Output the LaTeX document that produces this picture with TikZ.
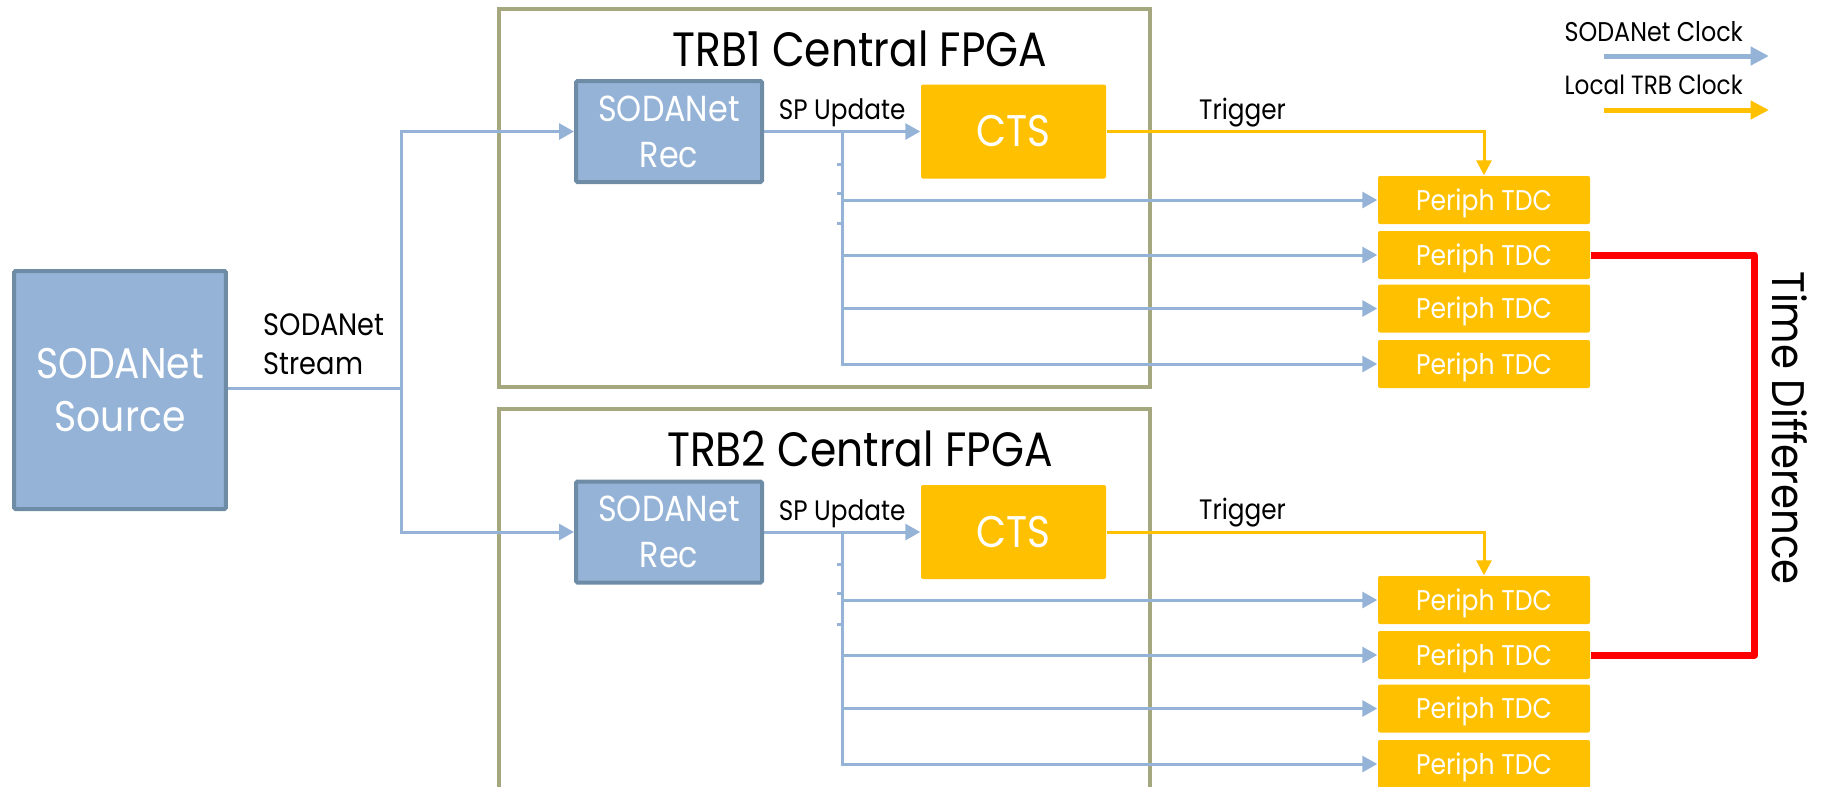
\documentclass[tikz,border=0pt]{standalone}
\usepackage{fontspec}
\setmainfont{Poppins}[FakeStretch=0.88]
\usetikzlibrary{arrows.meta}
\definecolor{sodafill}{HTML}{95B3D7}
\definecolor{sodaedge}{HTML}{6E8CA6}
\definecolor{trbgold}{HTML}{FFC000}
\definecolor{frameolive}{HTML}{A5A77E}
\newcommand\fsz[2]{\fontsize{#1}{#2}\selectfont}
\tikzset{
	sodabox/.style={draw=sodaedge, line width=0.4mm, fill=sodafill, text=white, align=center, inner sep=0pt, rounded corners=0.15mm},
	goldbox/.style={fill=trbgold, text=white, inner sep=0pt, rounded corners=0.2mm},
	tdcbox/.style={goldbox, minimum width=21.2mm, minimum height=4.8mm, text height=5.7pt, text depth=0pt, font=\fsz{8.1}{10}},
	clk/.style={draw=sodafill, line width=0.3mm, -{Triangle[length=1.5mm,width=1.6mm]}},
	tick/.style={draw=sodafill, line width=0.3mm},
	trg/.style={draw=trbgold, line width=0.3mm, -{Triangle[length=1.5mm,width=1.5mm]}},
	fpgaframe/.style={draw=frameolive, line width=0.4mm},
	tdiff/.style={draw=red, line width=0.7mm, line join=round},
	lbl/.style={text=black, inner sep=0.3mm}
}

\begin{document}
\begin{tikzpicture}[x=0.1mm, y=-0.1mm]
		%%%%% START %%%%%
		\useasboundingbox (0, 0) rectangle (1827, 786);
		\clip (0, 0) rectangle (1827, 786);
		
		% source
		\node[sodabox, minimum width=21.2mm, minimum height=23.8mm, font=\fsz{12.2}{15}] (source) at (120, 390) {SODANet\\Source};
		\node[lbl, anchor=west, align=left, font=\fsz{8.8}{11.1}] (streamlbl) at (260, 344) {SODANet\\Stream};
		\coordinate (fork) at (401, 388);
		
		% TRB1
		\draw[fpgaframe] (499, 9) rectangle (1150, 387);
		\node[font=\fsz{13.7}{15}] (title1) at (860, 49) {TRB1 Central FPGA};
		\node[sodabox, minimum width=18.6mm, minimum height=10.1mm, font=\fsz{10.3}{13.1}] (rec1) at (669, 131.5) {SODANet\\Rec};
		\node[goldbox, minimum width=18.5mm, minimum height=9.4mm, font=\fsz{12.6}{14}] (cts1) at (1013.5, 131.5) {CTS};
		\node[tdcbox] (tdc11) at (1484, 200) {Periph TDC};
		\node[tdcbox] (tdc12) at (1484, 255) {Periph TDC};
		\node[tdcbox] (tdc13) at (1484, 308.5) {Periph TDC};
		\node[tdcbox] (tdc14) at (1484, 364) {Periph TDC};
		
		% TRB2
		\draw[fpgaframe] (499, 409) rectangle (1150, 800);
		\node[font=\fsz{13.7}{15}] (title2) at (860, 449) {TRB2 Central FPGA};
		\node[sodabox, minimum width=18.6mm, minimum height=10.1mm, font=\fsz{10.3}{13.1}] (rec2) at (669, 532) {SODANet\\Rec};
		\node[goldbox, minimum width=18.5mm, minimum height=9.4mm, font=\fsz{12.6}{14}] (cts2) at (1013.5, 532) {CTS};
		\node[tdcbox] (tdc21) at (1484, 600) {Periph TDC};
		\node[tdcbox] (tdc22) at (1484, 655) {Periph TDC};
		\node[tdcbox] (tdc23) at (1484, 708.5) {Periph TDC};
		\node[tdcbox] (tdc24) at (1484, 764) {Periph TDC};
		
		% SODANet stream
		\draw[clk] (source.east |- fork) -- (fork) |- (rec1.west);
		\draw[clk] (fork) |- (rec2.west);
		
		% SP update + clock fan out
		\draw[clk] (rec1.east) -- node[lbl, above, font=\fsz{8}{9}] (spu1) {SP Update} (cts1.west);
		\coordinate (br1) at (842, 131.5);
		\draw[clk] (br1) |- (tdc11.west);
		\draw[clk] (br1) |- (tdc12.west);
		\draw[clk] (br1) |- (tdc13.west);
		\draw[clk] (br1) |- (tdc14.west);
		\draw[tick] (837, 164) -- (842, 164);
		\draw[tick] (837, 193) -- (842, 193);
		\draw[tick] (837, 223) -- (842, 223);
		
		\draw[clk] (rec2.east) -- node[lbl, above, font=\fsz{8}{9}] (spu2) {SP Update} (cts2.west);
		\coordinate (br2) at (842, 532);
		\draw[clk] (br2) |- (tdc21.west);
		\draw[clk] (br2) |- (tdc22.west);
		\draw[clk] (br2) |- (tdc23.west);
		\draw[clk] (br2) |- (tdc24.west);
		\draw[tick] (837, 564) -- (842, 564);
		\draw[tick] (837, 593) -- (842, 593);
		\draw[tick] (837, 624) -- (842, 624);
		
		% trigger
		\draw[trg] (cts1.east) -| node[lbl, pos=0.18, above, font=\fsz{8}{9}] (trig1) {Trigger} (tdc11.north);
		\draw[trg] (cts2.east) -| node[lbl, pos=0.18, above, font=\fsz{8}{9}] (trig2) {Trigger} (tdc21.north);
		
		% time difference
		\draw[tdiff] (tdc12.east) -- ++(164, 0) |- (tdc22.east);
		\node[rotate=-90, font=\fsz{13}{15}] (tdifflbl) at (1790, 428) {Time Difference};
		
		% legend
		\node[anchor=west, lbl, font=\fsz{7.7}{9}] (lgsoda) at (1561, 32) {SODANet Clock};
		\node[anchor=west, lbl, font=\fsz{7.5}{9}] (lglocal) at (1561, 85) {Local TRB Clock};
		\coordinate (lgs1) at (1604, 56);
		\coordinate (lgs2) at (1769, 56);
		\coordinate (lgl1) at (1604, 110);
		\coordinate (lgl2) at (1769, 110);
		\draw[draw=sodafill, line width=0.5mm, -{Triangle[length=1.85mm,width=1.8mm]}] (lgs1) -- (lgs2);
		\draw[draw=trbgold, line width=0.5mm, -{Triangle[length=1.85mm,width=1.8mm]}] (lgl1) -- (lgl2);
		
		%%%%% END %%%%%
	\end{tikzpicture}
\end{document}
